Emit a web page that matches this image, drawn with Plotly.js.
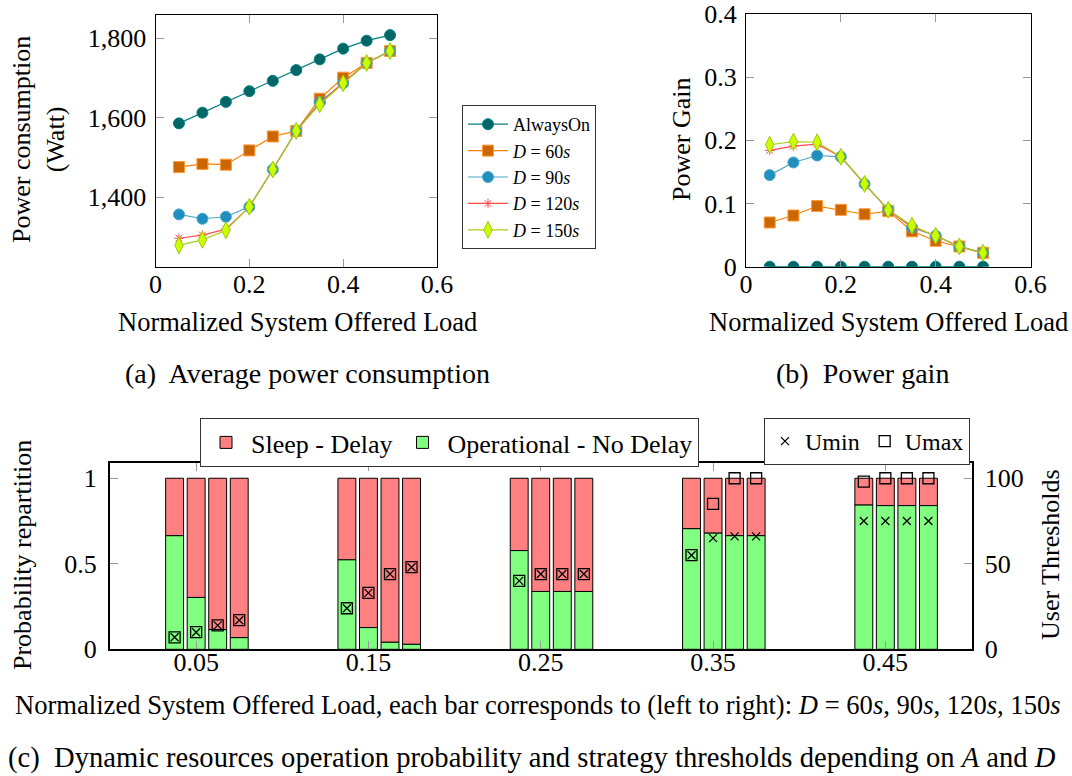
<!DOCTYPE html>
<html>
<head>
<meta charset="utf-8">
<script src="https://cdn.plot.ly/plotly-3.0.1.min.js"></script>
<style>html,body{margin:0;padding:0;background:#fff;}#chart{width:1072px;height:776px;}</style>
</head>
<body>
<div id="chart"></div>
<script>
// ---------- data ----------
const load = [0.05, 0.10, 0.15, 0.20, 0.25, 0.30, 0.35, 0.40, 0.45, 0.50];
const powerAlwaysOn = [1586, 1613, 1640, 1667, 1693, 1720, 1747, 1774, 1794, 1808];
const power60  = [1476, 1484, 1482, 1518, 1553, 1567, 1648, 1701, 1738, 1768];
const power90  = [1357, 1346, 1351, 1376, 1470, 1567, 1639, 1687, 1738, 1768];
const power120 = [1297, 1305, 1320, 1376, 1470, 1567, 1636, 1689, 1738, 1768];
const power150 = [1279, 1293, 1317, 1376, 1470, 1567, 1634, 1687, 1738, 1768];

const gainAlwaysOn = [0, 0, 0, 0, 0, 0, 0, 0, 0, 0];
const gain60  = [0.070, 0.081, 0.096, 0.090, 0.083, 0.088, 0.056, 0.041, 0.032, 0.022];
const gain90  = [0.145, 0.165, 0.176, 0.174, 0.131, 0.090, 0.062, 0.049, 0.032, 0.022];
const gain120 = [0.184, 0.191, 0.194, 0.174, 0.131, 0.090, 0.063, 0.049, 0.032, 0.022];
const gain150 = [0.193, 0.198, 0.197, 0.174, 0.131, 0.090, 0.065, 0.049, 0.032, 0.022];

const seriesNames = ['AlwaysOn', '<i>D</i> = 60<i>s</i>', '<i>D</i> = 90<i>s</i>', '<i>D</i> = 120<i>s</i>', '<i>D</i> = 150<i>s</i>'];

// bottom chart: groups of loads, one bar per D (60, 90, 120, 150 s)
const barLoads = [0.05, 0.15, 0.25, 0.35, 0.45];
const barTickLabels = ['0.05', '0.15', '0.25', '0.35', '0.45'];
// operational probability, per load: [D60, D90, D120, D150]
const operational = [
  [0.664, 0.303, 0.115, 0.068],
  [0.523, 0.127, 0.041, 0.029],
  [0.577, 0.338, 0.338, 0.338],
  [0.705, 0.679, 0.664, 0.664],
  [0.843, 0.840, 0.840, 0.840]
];
const sleep = [
  [0.336, 0.697, 0.885, 0.932],
  [0.477, 0.873, 0.959, 0.971],
  [0.423, 0.662, 0.662, 0.662],
  [0.295, 0.321, 0.336, 0.336],
  [0.157, 0.160, 0.160, 0.160]
];
const uMin = [
  [7, 10, 14, 17],
  [24, 33, 44, 48],
  [40, 44, 44, 44],
  [55, 65, 66, 66],
  [75, 75, 75, 75]
];
const uMax = [
  [7, 10, 14, 17],
  [24, 33, 44, 48],
  [40, 44, 44, 44],
  [55, 85, 100, 100],
  [98, 100, 100, 100]
];

// ---------- layout helpers ----------
const W = 1072, H = 776;
const X = p => p / W;
const Y = p => 1 - p / H;
const FONT = 'Liberation Serif, DejaVu Serif, serif';
const barShift = [-0.0125, 0, 0.0125, 0.025];
const barWidth = 0.0104;

const lineStyles = [
  {line: {color: '#008080', width: 1.2}, marker: {symbol: 'circle', size: 11, color: '#006666', line: {color: '#008080', width: 1}}},
  {line: {color: '#FF8000', width: 1.2}, marker: {symbol: 'square', size: 11, color: '#CC6600', line: {color: '#FF9933', width: 1}}},
  {line: {color: '#4DA6C8', width: 1.2}, marker: {symbol: 'circle', size: 11, color: '#1E8FBF', line: {color: '#4DA6C8', width: 1}}},
  {line: {color: '#FF4D4D', width: 1.2}, marker: {symbol: 'asterisk-open', size: 8, color: '#FF4D4D', line: {color: '#FF4D4D', width: 1}}},
  {line: {color: '#A8D020', width: 1.2}, marker: {symbol: 'diamond-tall', size: 12, color: '#CCFF00', line: {color: '#99CC00', width: 1}}}
];

const powerSeries = [powerAlwaysOn, power60, power90, power120, power150];
const gainSeries = [gainAlwaysOn, gain60, gain90, gain120, gain150];

const traces = [];
powerSeries.forEach((s, i) => {
  traces.push({x: load, y: s, type: 'scatter', mode: 'lines+markers', name: seriesNames[i],
    xaxis: 'x', yaxis: 'y', line: lineStyles[i].line, marker: lineStyles[i].marker, legend: 'legend'});
});
gainSeries.forEach((s, i) => {
  traces.push({x: load, y: s, type: 'scatter', mode: 'lines+markers', name: seriesNames[i],
    xaxis: 'x2', yaxis: 'y2', line: lineStyles[i].line, marker: lineStyles[i].marker, showlegend: false});
});

// bars
const bx = [], opY = [], slY = [], slBase = [], umin = [], umax = [];
barLoads.forEach((l, g) => {
  for (let d = 0; d < 4; d++) {
    bx.push(l + barShift[d]);
    opY.push(operational[g][d]);
    slY.push(sleep[g][d]);
    slBase.push(operational[g][d]);
    umin.push(uMin[g][d]);
    umax.push(uMax[g][d]);
  }
});
traces.push({x: bx, y: slY, base: slBase, type: 'bar', width: barWidth, name: 'Sleep - Delay',
  xaxis: 'x3', yaxis: 'y3', marker: {color: '#FF8080', line: {color: '#000', width: 1}}, legend: 'legend2'});
traces.push({x: bx, y: opY, type: 'bar', width: barWidth, name: 'Operational - No Delay',
  xaxis: 'x3', yaxis: 'y3', marker: {color: '#80FF80', line: {color: '#000', width: 1}}, legend: 'legend2'});
traces.push({x: bx, y: umin, type: 'scatter', mode: 'markers', name: 'Umin', xaxis: 'x3', yaxis: 'y4',
  marker: {symbol: 'x-thin-open', size: 8, color: '#000', line: {color: '#000', width: 1.3}}, legend: 'legend3'});
traces.push({x: bx, y: umax, type: 'scatter', mode: 'markers', name: 'Umax', xaxis: 'x3', yaxis: 'y4',
  marker: {symbol: 'square-open', size: 11, color: '#000', line: {color: '#000', width: 1.3}}, legend: 'legend3'});

const axBase = {
  showline: true, linecolor: '#000', linewidth: 1, mirror: 'ticks', ticks: 'inside', ticklen: 8,
  tickcolor: '#999', tickwidth: 1, showgrid: false, zeroline: false,
  tickfont: {family: FONT, size: 26, color: '#000'}, ticklabelstandoff: 0, fixedrange: true
};

const legFont = {family: FONT, size: 18, color: '#000'};

const layout = {
  width: W, height: H, margin: {l: 0, r: 0, t: 0, b: 0},
  paper_bgcolor: '#fff', plot_bgcolor: '#fff',
  font: {family: FONT, color: '#000'},
  barmode: 'overlay', hovermode: false,
  xaxis: Object.assign({}, axBase, {domain: [X(155.5), X(437)], range: [0, 0.6], tickvals: [0, 0.2, 0.4, 0.6], ticktext: ['0', '0.2', '0.4', '0.6'], anchor: 'y', ticklabelstandoff: -6}),
  yaxis: Object.assign({}, axBase, {domain: [Y(266.7), Y(15)], range: [1225.4, 1858.6], tickvals: [1400, 1600, 1800], tickformat: ',d', anchor: 'x', ticklabelstandoff: 3}),
  xaxis2: Object.assign({}, axBase, {domain: [X(746), X(1030.5)], range: [0, 0.6], tickvals: [0, 0.2, 0.4, 0.6], ticktext: ['0', '0.2', '0.4', '0.6'], anchor: 'y2', ticklabelstandoff: -6}),
  yaxis2: Object.assign({}, axBase, {domain: [Y(266.7), Y(14)], range: [0, 0.4], tickvals: [0, 0.1, 0.2, 0.3, 0.4], ticktext: ['0', '0.1', '0.2', '0.3', '0.4'], anchor: 'x2', ticklabelstandoff: 3}),
  xaxis3: Object.assign({}, axBase, {domain: [X(110), X(971.5)], range: [0, 0.5], tickvals: barLoads, ticktext: barTickLabels, anchor: 'y3', linewidth: 2, ticklabelstandoff: -12}),
  yaxis3: Object.assign({}, axBase, {domain: [Y(649.3), Y(462.5)], range: [0, 1.092], tickvals: [0, 0.5, 1], ticktext: ['0', '0.5', '1'], anchor: 'x3', linewidth: 2, mirror: false, ticklabelstandoff: 6}),
  yaxis4: Object.assign({}, axBase, {overlaying: 'y3', side: 'right', range: [0, 109.2], tickvals: [0, 50, 100], anchor: 'x3', linewidth: 2, mirror: false, ticklabelstandoff: 6}),
  legend: {x: X(462), y: Y(105), xanchor: 'left', yanchor: 'top', bordercolor: '#333', borderwidth: 1, bgcolor: '#fff',
    font: legFont, itemwidth: 40, tracegroupgap: 0},
  legend2: {x: X(200), y: Y(418), xanchor: 'left', yanchor: 'top', orientation: 'h', bordercolor: '#333', borderwidth: 1, bgcolor: '#fff',
    font: {family: FONT, size: 26, color: '#000'}, itemwidth: 40},
  legend3: {x: X(970), y: Y(418), xanchor: 'right', yanchor: 'top', orientation: 'h', bordercolor: '#333', borderwidth: 1, bgcolor: '#fff',
    font: {family: FONT, size: 24, color: '#000'}, itemwidth: 30},
  annotations: [
    {text: 'Power consumption<br>(Watt)', x: X(38), y: Y(140), textangle: -90, font: {size: 26}},
    {text: 'Normalized System Offered Load', x: X(297), y: Y(322), font: {size: 26.5}},
    {text: '(a)  Average power consumption', x: X(307), y: Y(373), font: {size: 28}},
    {text: 'Power Gain', x: X(681), y: Y(140), textangle: -90, font: {size: 26}},
    {text: 'Normalized System Offered Load', x: X(888), y: Y(322), font: {size: 26.5}},
    {text: '(b)  Power gain', x: X(862), y: Y(373), font: {size: 28}},
    {text: 'Probability repartition', x: X(22), y: Y(555), textangle: -90, font: {size: 26}},
    {text: 'User Thresholds', x: X(1050), y: Y(555), textangle: -90, font: {size: 26}},
    {text: 'Normalized System Offered Load, each bar corresponds to (left to right): <i>D</i> = 60<i>s</i>, 90<i>s</i>, 120<i>s</i>, 150<i>s</i>', x: X(538), y: Y(705), font: {size: 26.6}},
    {text: '(c)  Dynamic resources operation probability and strategy thresholds depending on <i>A</i> and <i>D</i>', x: X(6), y: Y(758), xanchor: 'left', font: {size: 28.6}}
  ].map(a => Object.assign({xref: 'paper', yref: 'paper', showarrow: false, xanchor: 'center', yanchor: 'middle'}, a,
      {font: Object.assign({family: FONT, color: '#000'}, a.font)}))
};

Plotly.newPlot('chart', traces, layout, {staticPlot: true, displayModeBar: false});
</script>
</body>
</html>
